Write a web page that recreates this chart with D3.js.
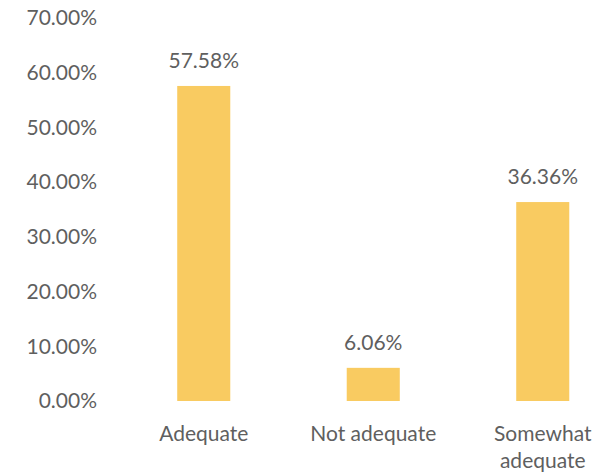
<!DOCTYPE html>
<html>
<head>
<meta charset="utf-8">
<script src="https://cdn.jsdelivr.net/npm/d3@7"></script>
<style>
html,body{margin:0;padding:0;background:#fff;}
svg{display:block;}
</style>
</head>
<body>
<svg id="chart" width="613" height="474"></svg>
<script>
const categories = ["Adequate", "Not adequate", "Somewhat adequate"];
const values = [57.58, 6.06, 36.36];
const yTicks = [0, 10, 20, 30, 40, 50, 60, 70];

const svg = d3.select("#chart");
const font = "Lato, 'Open Sans', sans-serif";
const textColor = "#5f5f5f";
const barColor = "#F9CB61";
const fs = 21;

const y = d3.scaleLinear().domain([0, 70]).range([401, 18]);
const x = d3.scaleBand().domain(categories).range([119, 627.5]).paddingInner(0.687).paddingOuter(0.3435);

// y axis
const yAxis = d3.axisLeft(y).tickValues(yTicks).tickSize(0).tickPadding(0)
  .tickFormat(d => d.toFixed(2) + "%");
const gy = svg.append("g").attr("transform", "translate(97,0)").call(yAxis);
gy.select(".domain").remove();
gy.selectAll("text").attr("font-family", font).attr("font-size", fs).attr("fill", textColor);

// bars
svg.append("g").selectAll("rect").data(values).join("rect")
  .attr("x", (d, i) => x(categories[i]))
  .attr("width", x.bandwidth())
  .attr("y", d => y(d))
  .attr("height", d => y(0) - y(d))
  .attr("fill", barColor);

// value labels
svg.append("g").selectAll("text").data(values).join("text")
  .attr("x", (d, i) => x(categories[i]) + x.bandwidth() / 2)
  .attr("y", d => y(d) - 18)
  .attr("text-anchor", "middle")
  .attr("font-family", font).attr("font-size", fs).attr("fill", textColor)
  .text(d => d.toFixed(2) + "%");

// x axis labels
const xAxis = d3.axisBottom(x).tickSize(0).tickPadding(0);
const gx = svg.append("g").attr("transform", "translate(0,401)").call(xAxis);
gx.select(".domain").remove();
gx.selectAll("text").remove();
gx.selectAll(".tick").each(function(d) {
  const words = d === "Somewhat adequate" ? ["Somewhat", "adequate"] : [d];
  const t = d3.select(this).append("text")
    .attr("text-anchor", "middle")
    .attr("font-family", font).attr("font-size", fs).attr("fill", textColor);
  words.forEach((w, i) => {
    t.append("tspan").attr("x", 0).attr("y", 40 + i * 27).text(w);
  });
});
</script>
</body>
</html>
